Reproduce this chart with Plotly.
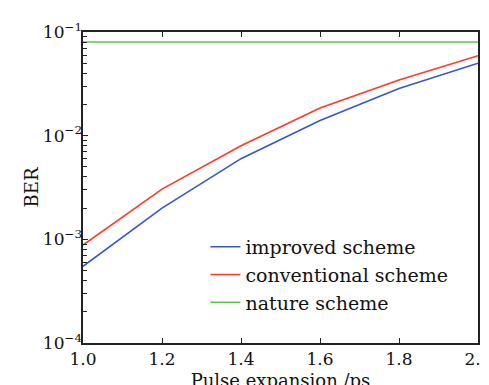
import plotly.graph_objects as go

x_ps = [1.0, 1.2, 1.4, 1.6, 1.8, 2.0]
improved = [5.5e-4, 2.0e-3, 6.0e-3, 1.4e-2, 2.85e-2, 5.0e-2]
conventional = [8.8e-4, 3.05e-3, 8.0e-3, 1.85e-2, 3.45e-2, 5.9e-2]
nature = [0.08, 0.08, 0.08, 0.08, 0.08, 0.08]
y_tickvals = [1e-4, 1e-3, 1e-2, 1e-1]
y_ticktext = ["10<sup>−4</sup>", "10<sup>−3</sup>", "10<sup>−2</sup>", "10<sup>−1</sup>"]
y_minor_mult = [2, 3, 4, 5, 6, 7, 8, 9]

y_minor_vals = [m * d for d in y_tickvals[:-1] for m in y_minor_mult]

FONT = "DejaVu Serif"

fig = go.Figure()
fig.add_trace(go.Scatter(x=x_ps, y=improved, mode="lines", name="improved scheme",
                         line=dict(color="#3558c8", width=1.6)))
fig.add_trace(go.Scatter(x=x_ps, y=conventional, mode="lines", name="conventional scheme",
                         line=dict(color="#ff3a26", width=1.6)))
fig.add_trace(go.Scatter(x=x_ps, y=nature, mode="lines", name="nature scheme",
                         line=dict(color="#5cc84a", width=1.6)))
# helper trace so the overlay axis carrying the tick labels is drawn
fig.add_trace(go.Scatter(x=x_ps, y=nature, mode="lines", yaxis="y2", showlegend=False,
                         hoverinfo="skip", opacity=0, line=dict(width=0)))

fig.update_layout(
    width=489, height=385,
    margin=dict(l=75, r=19, t=24, b=50),
    paper_bgcolor="white", plot_bgcolor="white",
    font=dict(family=FONT, size=16, color="#111"),
    legend=dict(x=0.31, y=0.37, xanchor="left", yanchor="top",
                bgcolor="rgba(0,0,0,0)", font=dict(family=FONT, size=19),
                itemwidth=30, tracegroupgap=0),
    showlegend=True,
    xaxis=dict(
        range=[1.0, 2.0], tickmode="linear", tick0=1.0, dtick=0.2, tickformat=".1f",
        ticks="inside", ticklen=5, tickwidth=1.3, tickcolor="#222",
        showgrid=False, zeroline=False, automargin=False,
        showline=True, linecolor="#222", linewidth=1.5, mirror="ticks",
        title=dict(text="Pulse expansion /ps", font=dict(family=FONT, size=18), standoff=6),
        tickfont=dict(family=FONT, size=17),
    ),
    yaxis=dict(
        type="log", range=[-4, -1], dtick=1, showticklabels=False,
        ticks="inside", ticklen=5, tickwidth=1.3, tickcolor="#222",
        showgrid=False, zeroline=False, automargin=False,
        showline=True, linecolor="#222", linewidth=1.5, mirror=True,
        minor=dict(ticks="inside", ticklen=4, tickwidth=1.2, tickcolor="#222",
                   showgrid=False, tickmode="array", tickvals=y_minor_vals),
        title=dict(text="BER", font=dict(family=FONT, size=18), standoff=38),
    ),
    yaxis2=dict(
        overlaying="y", side="left", anchor="x", type="log", range=[-4, -1],
        tickmode="array", tickvals=y_tickvals, ticktext=y_ticktext, ticks="",
        showgrid=False, zeroline=False, showline=False, automargin=False,
        tickfont=dict(family=FONT, size=17),
    ),
)

fig.write_html("out.html")
